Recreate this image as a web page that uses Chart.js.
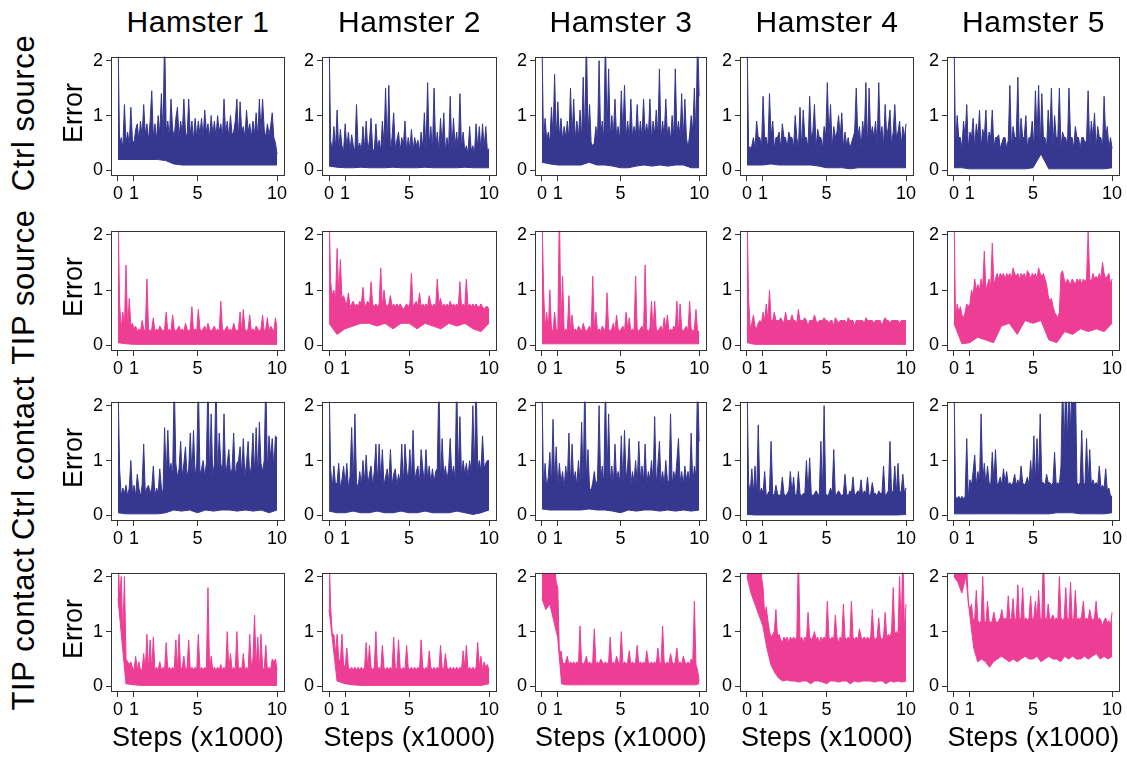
<!DOCTYPE html>
<html>
<head>
<meta charset="utf-8">
<script src="https://cdn.jsdelivr.net/npm/chart.js@4.4.1/dist/chart.umd.min.js"></script>
<style>
  body { margin: 0; background: #fff; width: 1127px; height: 757px; overflow: hidden; position: relative; font-family: "Liberation Sans", Arial, sans-serif; color: #000; }
  canvas { position: absolute; }
  .lbl { position: absolute; white-space: nowrap; line-height: 1; }
</style>
</head>
<body>
<script>
const hamsters = ["Hamster 1", "Hamster 2", "Hamster 3", "Hamster 4", "Hamster 5"]
const conditions = ["Ctrl source", "TIP source", "Ctrl contact", "TIP contact"]
const xTicks = [0, 1, 5, 10]
const yTicks = [0, 1, 2]

// error: upper edge of the noisy trace (with its spikes)
// and its lower edge, both spread evenly over steps 0..10 (x1000)
const ctrlSource1Top = [2.5, 0.45, 0.6, 0.4, 1.2, 0.5, 0.7, 0.45, 1.15, 0.55, 0.5, 0.75, 0.85, 0.55, 0.9, 0.6, 1.2, 0.65, 0.85, 0.55, 0.9, 1.45, 0.6, 0.85, 0.55, 1.0, 0.65, 1.4, 0.6, 2.5, 0.7, 0.9, 0.6, 1.3, 0.75, 0.6, 0.95, 1.15, 0.6, 0.9, 0.65, 1.3, 0.7, 0.6, 1.3, 0.65, 0.9, 0.55, 0.95, 0.6, 0.9, 0.65, 0.95, 0.6, 1.1, 0.7, 0.85, 0.6, 1.0, 0.65, 0.9, 0.6, 1.0, 0.7, 0.85, 0.6, 1.3, 0.65, 0.9, 0.6, 1.0, 0.65, 0.7, 0.9, 1.3, 0.6, 1.25, 0.7, 0.8, 0.6, 1.1, 0.7, 0.85, 0.6, 0.9, 0.65, 1.05, 0.6, 1.3, 0.7, 1.3, 0.75, 0.6, 0.85, 0.65, 0.8, 1.05, 0.6, 0.5, 0.3]
const ctrlSource1Low = [0.2, 0.2, 0.2, 0.2, 0.2, 0.2, 0.18, 0.12, 0.1, 0.1, 0.1, 0.1, 0.1, 0.1, 0.1, 0.1, 0.1, 0.1, 0.1, 0.1, 0.1]
const ctrlSource2Top = [2.5, 0.55, 0.35, 0.8, 0.4, 1.1, 0.35, 0.75, 0.45, 0.35, 0.85, 0.4, 0.7, 0.35, 0.65, 0.45, 0.35, 1.2, 0.4, 0.5, 0.35, 0.8, 0.4, 0.9, 0.35, 0.55, 0.95, 0.4, 0.35, 0.85, 0.4, 0.55, 0.35, 0.9, 0.45, 1.5, 0.4, 1.55, 0.35, 0.6, 1.05, 0.4, 0.55, 0.7, 0.35, 0.6, 0.45, 0.9, 0.35, 0.6, 0.4, 0.75, 0.35, 0.6, 0.45, 0.55, 0.35, 0.7, 0.4, 1.05, 0.35, 1.6, 0.45, 0.8, 0.35, 1.5, 0.4, 0.7, 0.35, 0.95, 0.45, 1.05, 0.35, 0.6, 0.4, 1.35, 0.35, 0.95, 0.45, 0.7, 0.35, 1.4, 0.4, 0.7, 0.35, 0.45, 0.3, 0.8, 0.35, 0.45, 0.3, 0.85, 0.4, 0.8, 0.35, 0.85, 0.4, 0.8, 0.35, 0.4]
const ctrlSource2Low = [0.08, 0.06, 0.05, 0.05, 0.06, 0.05, 0.05, 0.05, 0.06, 0.05, 0.05, 0.05, 0.06, 0.05, 0.05, 0.05, 0.05, 0.06, 0.05, 0.05, 0.05]
const ctrlSource3Top = [2.5, 0.5, 0.95, 0.55, 0.7, 0.5, 1.15, 0.6, 1.75, 0.55, 1.25, 0.6, 0.95, 0.55, 0.8, 0.6, 0.9, 0.55, 1.5, 0.6, 1.3, 0.55, 0.9, 0.6, 1.1, 0.55, 1.7, 0.6, 2.5, 0.65, 1.2, 0.5, 0.45, 0.5, 0.8, 0.55, 2.0, 0.6, 0.9, 0.55, 2.5, 0.65, 1.85, 0.6, 1.0, 0.65, 1.3, 0.6, 0.8, 0.55, 1.45, 0.65, 1.55, 0.6, 0.9, 0.55, 1.3, 0.6, 0.8, 0.65, 1.2, 0.55, 0.9, 0.6, 1.3, 0.65, 0.85, 0.6, 1.3, 0.55, 0.9, 0.65, 1.1, 0.6, 1.85, 0.55, 0.9, 0.6, 1.3, 0.65, 0.8, 0.55, 1.0, 0.6, 1.85, 0.65, 0.9, 0.6, 1.4, 0.55, 1.3, 0.6, 0.4, 0.65, 1.0, 0.7, 1.5, 0.6, 2.5, 1.35]
const ctrlSource3Low = [0.15, 0.12, 0.1, 0.1, 0.1, 0.1, 0.15, 0.1, 0.1, 0.08, 0.05, 0.05, 0.08, 0.1, 0.08, 0.1, 0.08, 0.1, 0.1, 0.05, 0.05]
const ctrlSource4Top = [2.5, 0.45, 0.4, 0.45, 0.6, 0.4, 0.9, 0.6, 0.6, 0.4, 1.35, 0.6, 0.6, 0.4, 1.4, 0.6, 0.9, 0.4, 0.6, 0.6, 0.7, 0.4, 0.85, 0.6, 0.6, 0.4, 0.7, 0.6, 0.6, 0.4, 1.0, 0.6, 0.4, 1.15, 0.4, 1.1, 0.6, 0.6, 0.4, 1.35, 0.6, 0.7, 1.2, 0.4, 0.75, 0.6, 0.6, 0.4, 0.8, 0.6, 1.6, 0.6, 1.2, 0.4, 0.8, 0.6, 0.7, 1.0, 0.6, 1.05, 0.4, 0.7, 0.45, 0.6, 0.4, 0.5, 0.6, 0.7, 1.5, 0.6, 0.8, 0.4, 0.9, 0.6, 1.6, 0.4, 1.5, 0.6, 0.8, 0.6, 0.9, 0.45, 1.6, 0.6, 0.8, 0.45, 1.2, 0.6, 0.8, 1.1, 0.45, 0.7, 1.2, 0.6, 0.7, 0.9, 0.45, 0.8, 0.6, 0.85]
const ctrlSource4Low = [0.1, 0.1, 0.1, 0.12, 0.1, 0.1, 0.1, 0.1, 0.1, 0.08, 0.05, 0.05, 0.05, 0.03, 0.05, 0.05, 0.05, 0.05, 0.05, 0.05, 0.05]
const ctrlSource5Top = [2.5, 0.4, 1.0, 0.6, 0.6, 0.4, 0.9, 0.6, 1.2, 0.4, 0.7, 0.6, 0.95, 0.4, 0.85, 0.6, 1.1, 0.4, 0.75, 0.6, 1.1, 0.4, 0.7, 0.6, 1.1, 0.4, 0.6, 0.6, 0.65, 0.4, 0.5, 0.6, 0.6, 0.4, 0.55, 1.55, 0.4, 0.8, 0.6, 0.6, 1.7, 0.4, 0.95, 0.6, 0.6, 1.0, 0.4, 0.6, 0.6, 0.9, 0.4, 1.45, 0.6, 1.55, 0.45, 1.4, 0.6, 0.6, 0.4, 1.1, 0.6, 1.5, 0.4, 1.0, 0.6, 0.6, 1.5, 0.4, 0.7, 0.6, 0.6, 0.4, 1.5, 0.6, 0.6, 0.4, 0.8, 0.6, 0.6, 0.4, 0.6, 0.6, 0.5, 0.55, 1.45, 0.4, 0.9, 0.6, 1.05, 0.4, 0.8, 0.6, 0.6, 0.4, 1.35, 0.6, 0.8, 0.4, 0.6, 0.4]
const ctrlSource5Low = [0.05, 0.05, 0.03, 0.03, 0.03, 0.03, 0.03, 0.03, 0.03, 0.03, 0.05, 0.3, 0.03, 0.03, 0.03, 0.03, 0.03, 0.03, 0.03, 0.03, 0.05]

const tipSource1Top = [2.5, 0.75, 0.3, 0.6, 0.35, 1.45, 0.3, 0.85, 0.35, 0.4, 0.3, 0.35, 0.25, 0.3, 0.25, 0.45, 0.3, 0.25, 1.2, 0.3, 0.25, 0.3, 0.5, 0.25, 0.3, 0.25, 0.35, 0.3, 0.25, 0.3, 0.6, 0.25, 0.3, 0.25, 0.55, 0.3, 0.25, 0.3, 0.35, 0.25, 0.3, 0.25, 0.4, 0.3, 0.25, 0.3, 0.7, 0.25, 0.3, 0.25, 0.65, 0.3, 0.25, 0.3, 0.35, 0.25, 0.4, 0.3, 0.25, 0.3, 0.35, 0.25, 0.3, 0.25, 0.8, 0.3, 0.25, 0.3, 0.35, 0.25, 0.3, 0.25, 0.4, 0.3, 0.25, 0.3, 0.6, 0.25, 0.65, 0.3, 0.25, 0.3, 0.55, 0.25, 0.3, 0.25, 0.35, 0.3, 0.25, 0.3, 0.55, 0.25, 0.3, 0.5, 0.25, 0.35, 0.3, 0.25, 0.5, 0.3]
const tipSource1Low = [0.05, 0.03, 0.02, 0.02, 0.02, 0.02, 0.02, 0.02, 0.02, 0.02, 0.02, 0.02, 0.02, 0.02, 0.02, 0.02, 0.02, 0.02, 0.02, 0.02, 0.02]
const tipSource2Top = [2.5, 1.15, 0.9, 1.0, 0.8, 1.75, 0.9, 1.55, 0.85, 0.9, 0.8, 0.75, 0.95, 0.7, 0.75, 0.8, 0.7, 0.75, 0.7, 0.8, 0.75, 1.05, 0.7, 0.75, 0.8, 0.7, 1.15, 0.75, 0.7, 0.75, 0.7, 0.75, 1.4, 0.7, 1.0, 0.75, 0.7, 0.75, 0.9, 0.7, 0.75, 0.7, 0.75, 0.7, 0.75, 0.7, 0.65, 0.7, 0.75, 0.7, 0.75, 1.3, 0.7, 0.75, 0.8, 0.7, 0.95, 0.7, 0.75, 0.7, 0.75, 0.7, 0.9, 0.75, 0.7, 0.75, 0.7, 1.2, 0.75, 0.85, 0.7, 0.75, 0.7, 0.75, 0.7, 0.8, 0.7, 0.75, 0.7, 0.75, 0.7, 1.15, 0.7, 0.75, 0.7, 1.2, 0.7, 0.75, 0.7, 0.75, 0.7, 0.75, 0.7, 0.7, 0.75, 0.7, 0.65, 0.7, 0.7, 0.65]
const tipSource2Low = [0.4, 0.2, 0.3, 0.35, 0.4, 0.4, 0.35, 0.4, 0.3, 0.4, 0.4, 0.3, 0.4, 0.35, 0.3, 0.4, 0.35, 0.4, 0.3, 0.25, 0.4]
const tipSource3Top = [2.5, 1.05, 0.3, 0.6, 0.25, 1.0, 0.3, 0.25, 0.6, 0.3, 0.25, 2.5, 0.3, 1.25, 0.25, 0.3, 0.25, 0.9, 0.3, 0.55, 0.25, 0.3, 0.25, 0.35, 0.3, 0.25, 0.4, 0.3, 0.25, 0.3, 0.35, 0.25, 1.25, 0.3, 0.6, 0.25, 0.3, 0.25, 0.35, 0.3, 0.25, 0.95, 0.3, 0.25, 0.3, 0.4, 0.25, 0.55, 0.3, 0.25, 0.3, 0.35, 0.25, 0.6, 0.3, 0.5, 0.25, 0.3, 0.25, 1.25, 0.3, 0.25, 0.3, 0.35, 0.25, 1.45, 0.3, 0.25, 0.3, 0.8, 0.25, 0.8, 0.3, 0.25, 0.3, 0.35, 0.25, 0.5, 0.3, 0.55, 0.25, 0.3, 0.25, 0.35, 0.3, 0.8, 0.25, 0.75, 0.3, 0.25, 0.3, 0.35, 0.25, 0.8, 0.3, 0.25, 0.3, 0.65, 0.25, 0.25]
const tipSource3Low = [0.03, 0.03, 0.03, 0.03, 0.03, 0.03, 0.03, 0.03, 0.03, 0.03, 0.03, 0.03, 0.03, 0.03, 0.03, 0.03, 0.03, 0.03, 0.03, 0.03, 0.03]
const tipSource4Top = [2.5, 0.85, 0.3, 0.4, 0.55, 0.35, 0.3, 0.4, 0.45, 0.4, 0.6, 0.45, 0.75, 0.45, 1.0, 0.45, 0.45, 0.6, 0.45, 0.45, 0.45, 0.5, 0.45, 0.4, 0.6, 0.45, 0.45, 0.45, 0.55, 0.45, 0.45, 0.4, 0.65, 0.45, 0.45, 0.45, 0.5, 0.45, 0.35, 0.45, 0.45, 0.45, 0.55, 0.45, 0.4, 0.45, 0.45, 0.45, 0.5, 0.45, 0.45, 0.4, 0.45, 0.45, 0.35, 0.5, 0.45, 0.4, 0.45, 0.45, 0.45, 0.45, 0.4, 0.5, 0.45, 0.45, 0.45, 0.35, 0.45, 0.45, 0.45, 0.45, 0.45, 0.4, 0.5, 0.45, 0.45, 0.45, 0.45, 0.4, 0.45, 0.45, 0.45, 0.45, 0.35, 0.45, 0.5, 0.45, 0.45, 0.4, 0.45, 0.45, 0.45, 0.45, 0.45, 0.4, 0.45, 0.45, 0.45, 0.45]
const tipSource4Low = [0.05, 0.02, 0.02, 0.02, 0.02, 0.02, 0.02, 0.02, 0.02, 0.02, 0.02, 0.02, 0.02, 0.02, 0.02, 0.02, 0.02, 0.02, 0.02, 0.02, 0.02]
const tipSource5Top = [2.5, 0.45, 0.75, 0.6, 0.7, 0.55, 0.5, 0.6, 0.75, 0.7, 0.75, 1.0, 0.9, 1.2, 1.0, 1.1, 1.0, 1.2, 1.05, 1.7, 1.0, 1.1, 1.2, 1.05, 1.85, 1.1, 1.2, 1.3, 1.2, 1.3, 1.25, 1.3, 1.2, 1.3, 1.25, 1.3, 1.2, 1.4, 1.3, 1.25, 1.3, 1.2, 1.3, 1.25, 1.3, 1.2, 1.35, 1.3, 1.2, 1.3, 1.25, 1.3, 1.2, 1.4, 1.3, 1.25, 1.3, 1.2, 1.1, 0.9, 0.8, 0.85, 0.7, 0.6, 0.55, 0.5, 0.6, 1.3, 1.35, 1.2, 1.1, 1.2, 1.15, 1.1, 1.2, 1.15, 1.1, 1.2, 1.15, 1.2, 1.1, 1.2, 1.15, 1.2, 2.05, 1.2, 1.15, 1.3, 1.2, 1.25, 1.2, 1.3, 1.2, 1.5, 1.3, 1.2, 1.25, 1.3, 1.1, 1.2]
const tipSource5Low = [0.4, 0.03, 0.05, 0.15, 0.1, 0.05, 0.35, 0.4, 0.2, 0.45, 0.4, 0.45, 0.1, 0.05, 0.25, 0.2, 0.3, 0.25, 0.3, 0.25, 0.4]

const ctrlContact1Top = [2.5, 0.85, 0.35, 0.5, 0.4, 0.55, 0.35, 0.5, 1.0, 0.4, 0.55, 0.35, 0.75, 0.5, 0.35, 0.55, 1.3, 0.4, 0.5, 0.55, 0.4, 0.5, 0.9, 0.35, 0.5, 0.4, 0.85, 0.5, 0.4, 1.6, 0.7, 1.55, 0.8, 0.95, 0.7, 2.5, 0.95, 0.7, 0.85, 1.35, 0.7, 0.95, 1.25, 0.7, 0.85, 1.5, 0.75, 1.55, 0.7, 0.95, 2.5, 0.75, 0.85, 1.0, 0.7, 0.95, 2.5, 0.75, 1.85, 0.7, 0.95, 2.5, 0.7, 1.5, 0.95, 0.75, 1.85, 0.7, 0.95, 1.2, 0.75, 0.85, 1.5, 0.7, 0.95, 1.0, 1.25, 0.75, 1.4, 0.7, 0.95, 1.35, 0.7, 0.9, 1.5, 0.75, 1.6, 0.7, 1.7, 0.95, 0.8, 1.0, 2.5, 0.8, 1.45, 1.05, 1.4, 0.85, 1.45, 1.4]
const ctrlContact1Low = [0.05, 0.03, 0.03, 0.03, 0.03, 0.03, 0.05, 0.1, 0.08, 0.1, 0.05, 0.1, 0.08, 0.1, 0.1, 0.08, 0.1, 0.08, 0.1, 0.05, 0.1]
const ctrlContact2Top = [2.5, 0.85, 0.5, 0.9, 0.55, 0.6, 0.95, 0.5, 0.65, 0.9, 0.55, 0.95, 0.5, 0.7, 1.6, 0.55, 1.85, 0.6, 0.5, 0.8, 0.55, 1.0, 0.6, 1.1, 0.55, 0.75, 0.9, 0.55, 0.8, 1.3, 0.6, 1.3, 0.65, 1.2, 0.55, 0.7, 0.85, 0.6, 1.2, 0.55, 0.75, 0.85, 0.55, 0.75, 0.6, 1.3, 0.55, 1.3, 0.85, 0.6, 1.2, 0.65, 1.55, 0.6, 0.8, 0.9, 0.6, 1.2, 0.85, 0.6, 1.2, 0.65, 0.9, 0.6, 0.85, 0.6, 0.8, 0.85, 2.5, 0.6, 1.4, 0.7, 0.9, 0.65, 0.85, 1.4, 0.7, 0.9, 0.65, 2.5, 0.75, 1.8, 0.7, 1.0, 0.75, 0.95, 0.7, 1.0, 0.8, 2.0, 0.8, 2.5, 0.85, 1.0, 0.8, 1.45, 0.85, 0.95, 1.0, 1.0]
const ctrlContact2Low = [0.08, 0.05, 0.05, 0.08, 0.05, 0.05, 0.08, 0.05, 0.05, 0.08, 0.05, 0.05, 0.08, 0.05, 0.05, 0.05, 0.08, 0.05, 0.02, 0.05, 0.1]
const ctrlContact3Top = [2.5, 0.45, 0.95, 0.5, 0.7, 1.15, 0.55, 1.75, 0.6, 1.25, 0.5, 0.95, 0.6, 0.8, 0.5, 0.9, 0.6, 1.5, 0.55, 1.3, 0.6, 0.8, 0.55, 1.0, 0.6, 1.7, 0.55, 2.5, 0.65, 1.2, 0.5, 0.45, 0.6, 0.8, 0.55, 0.65, 2.0, 0.6, 0.9, 0.55, 2.5, 0.65, 1.85, 0.6, 0.9, 0.55, 1.3, 0.65, 0.8, 0.6, 1.45, 0.55, 1.55, 0.65, 0.9, 1.4, 0.55, 0.8, 0.6, 1.0, 0.55, 1.35, 0.65, 0.9, 0.6, 1.3, 0.55, 0.8, 0.65, 1.0, 0.6, 1.8, 0.55, 0.9, 1.35, 0.6, 0.8, 0.55, 1.0, 0.65, 0.6, 1.85, 0.55, 0.8, 0.65, 1.0, 1.4, 0.6, 0.8, 0.55, 0.9, 0.65, 0.8, 0.6, 1.5, 0.55, 0.9, 0.7, 2.5, 1.35]
const ctrlContact3Low = [0.12, 0.1, 0.1, 0.1, 0.1, 0.1, 0.12, 0.1, 0.1, 0.08, 0.05, 0.1, 0.08, 0.1, 0.1, 0.08, 0.1, 0.08, 0.1, 0.08, 0.1]
const ctrlContact4Top = [2.5, 0.6, 0.4, 0.85, 0.4, 0.9, 0.35, 1.65, 0.4, 0.5, 0.4, 0.8, 0.35, 0.4, 0.45, 1.35, 0.4, 0.35, 0.55, 0.4, 0.35, 0.4, 0.7, 0.4, 0.35, 0.4, 0.45, 0.8, 0.4, 0.7, 0.35, 0.4, 0.8, 0.4, 0.35, 0.4, 0.4, 1.0, 0.4, 1.05, 0.4, 0.35, 0.4, 0.45, 0.4, 0.35, 1.35, 0.4, 2.0, 0.4, 0.35, 0.4, 0.5, 0.4, 1.2, 0.35, 0.4, 0.45, 0.4, 0.35, 0.4, 0.75, 0.4, 0.35, 0.45, 0.4, 0.7, 0.35, 0.4, 0.45, 0.4, 0.65, 0.35, 0.45, 0.4, 0.7, 0.35, 0.4, 0.6, 0.4, 0.4, 0.35, 0.45, 0.4, 0.4, 0.9, 0.35, 0.4, 0.45, 1.35, 0.4, 0.45, 0.9, 0.4, 0.95, 0.4, 0.45, 0.75, 0.4, 0.5]
const ctrlContact4Low = [0.02, 0.01, 0.01, 0.01, 0.01, 0.01, 0.01, 0.01, 0.01, 0.01, 0.01, 0.01, 0.01, 0.01, 0.01, 0.01, 0.01, 0.01, 0.01, 0.01, 0.02]
const ctrlContact5Top = [2.5, 0.35, 0.3, 0.35, 0.3, 0.35, 0.3, 0.35, 1.4, 0.3, 0.65, 0.55, 0.8, 1.1, 0.55, 0.8, 0.6, 1.85, 0.6, 0.95, 0.55, 0.9, 0.6, 0.55, 1.15, 0.6, 1.2, 0.55, 0.6, 0.7, 0.55, 0.85, 0.6, 0.8, 0.55, 0.6, 0.55, 0.6, 0.75, 0.55, 0.65, 0.55, 0.9, 0.6, 0.55, 0.6, 0.7, 0.55, 1.0, 0.6, 1.45, 0.6, 1.4, 0.65, 1.85, 0.6, 0.6, 0.55, 0.75, 0.6, 0.6, 0.55, 0.6, 1.15, 0.55, 0.6, 0.55, 0.9, 2.5, 1.2, 2.5, 1.3, 2.5, 1.5, 2.5, 2.5, 2.5, 0.6, 0.55, 0.6, 1.55, 0.6, 0.55, 1.4, 0.6, 1.2, 0.55, 0.65, 0.55, 0.6, 0.55, 0.9, 0.5, 0.55, 0.5, 0.85, 0.45, 0.5, 0.35, 0.35]
const ctrlContact5Low = [0.03, 0.03, 0.03, 0.03, 0.03, 0.03, 0.03, 0.03, 0.03, 0.03, 0.03, 0.03, 0.03, 0.05, 0.05, 0.05, 0.03, 0.03, 0.03, 0.03, 0.05]

const tipContact1Top = [2.5, 1.6, 2.0, 0.9, 2.0, 0.5, 0.45, 0.4, 0.45, 0.35, 0.3, 0.55, 0.3, 0.45, 0.3, 0.3, 0.6, 0.3, 0.95, 0.3, 0.85, 0.3, 0.9, 0.3, 0.35, 0.3, 0.45, 0.3, 0.35, 0.3, 0.8, 0.3, 0.35, 0.3, 0.35, 0.3, 0.85, 0.3, 0.95, 0.3, 0.35, 0.55, 0.3, 0.35, 0.85, 0.3, 0.35, 0.3, 0.35, 0.3, 0.95, 0.3, 0.35, 0.3, 0.35, 0.3, 1.8, 0.3, 0.55, 0.3, 0.35, 0.3, 0.35, 0.3, 0.4, 0.3, 0.35, 0.3, 1.0, 0.3, 0.6, 0.3, 0.35, 0.3, 1.0, 0.3, 0.35, 0.3, 0.6, 0.3, 0.35, 0.3, 0.95, 0.35, 0.5, 1.3, 0.35, 0.9, 0.3, 0.95, 0.35, 0.3, 0.75, 0.3, 0.35, 0.3, 0.5, 0.45, 0.5, 0.3]
const tipContact1Low = [1.6, 0.05, 0.03, 0.02, 0.02, 0.02, 0.02, 0.02, 0.02, 0.02, 0.02, 0.02, 0.02, 0.02, 0.02, 0.02, 0.02, 0.02, 0.02, 0.02, 0.02]
const tipContact2Top = [2.5, 1.45, 0.95, 0.95, 0.6, 0.95, 0.5, 0.45, 0.95, 0.4, 0.35, 0.7, 0.35, 0.3, 0.35, 0.3, 0.35, 0.3, 0.35, 0.3, 0.35, 0.3, 0.35, 0.8, 0.3, 0.75, 0.35, 0.3, 0.35, 1.0, 0.3, 0.35, 0.3, 0.75, 0.35, 0.3, 0.35, 0.3, 0.35, 0.3, 0.9, 0.35, 0.3, 0.85, 0.35, 0.3, 0.35, 0.3, 0.75, 0.35, 0.3, 0.35, 0.3, 0.35, 0.3, 0.35, 0.3, 0.85, 0.35, 0.3, 0.35, 0.3, 0.65, 0.35, 0.3, 0.35, 0.3, 0.35, 0.3, 0.75, 0.35, 0.3, 0.6, 0.35, 0.3, 0.35, 0.3, 0.35, 0.3, 0.35, 0.3, 0.35, 0.3, 0.65, 0.35, 0.75, 0.3, 0.35, 0.3, 0.35, 0.3, 0.35, 0.8, 0.35, 0.55, 0.3, 0.45, 0.35, 0.4, 0.3]
const tipContact2Low = [1.4, 0.1, 0.05, 0.03, 0.02, 0.02, 0.02, 0.02, 0.02, 0.02, 0.02, 0.02, 0.02, 0.02, 0.02, 0.02, 0.02, 0.02, 0.02, 0.02, 0.05]
const tipContact3Top = [2.5, 2.5, 2.5, 2.5, 2.5, 2.5, 2.5, 2.3, 2.2, 1.9, 1.8, 0.6, 0.65, 0.45, 0.4, 0.45, 0.55, 0.4, 0.45, 0.4, 0.45, 0.4, 0.45, 0.4, 1.1, 0.45, 0.4, 0.45, 0.55, 0.4, 0.45, 0.4, 0.45, 1.05, 0.4, 0.45, 0.4, 0.5, 0.45, 0.4, 0.45, 0.4, 0.45, 0.9, 0.4, 0.45, 0.4, 0.55, 0.45, 0.4, 1.0, 0.4, 0.45, 0.4, 0.45, 0.65, 0.4, 0.45, 0.4, 0.45, 0.75, 0.4, 0.45, 0.4, 0.45, 0.4, 0.65, 0.45, 0.4, 0.45, 0.4, 0.45, 0.4, 0.7, 0.45, 0.4, 1.1, 0.45, 0.4, 0.45, 0.4, 0.6, 0.45, 0.4, 0.45, 0.7, 0.4, 0.45, 0.4, 0.55, 0.45, 0.4, 0.45, 0.4, 0.5, 0.45, 1.55, 0.4, 0.3, 0.1]
const tipContact3Low = [1.6, 1.4, 1.5, 1.2, 0.9, 0.05, 0.03, 0.03, 0.03, 0.03, 0.03, 0.03, 0.03, 0.03, 0.03, 0.03, 0.03, 0.03, 0.03, 0.03, 0.03, 0.03, 0.03, 0.03, 0.03, 0.03, 0.03, 0.03, 0.03, 0.03, 0.03, 0.03, 0.03, 0.03, 0.03, 0.03, 0.03, 0.03, 0.03, 0.03, 0.05]
const tipContact4Top = [2.5, 2.5, 2.5, 2.5, 2.5, 2.5, 2.5, 2.5, 2.5, 2.0, 1.8, 1.3, 1.45, 1.2, 1.0, 0.9, 0.95, 1.0, 1.4, 0.9, 0.95, 0.85, 0.8, 0.9, 0.85, 0.9, 0.8, 0.9, 0.85, 0.9, 0.85, 0.9, 2.5, 0.85, 0.9, 0.8, 0.9, 0.85, 1.35, 0.9, 0.85, 0.9, 1.0, 0.85, 0.9, 0.8, 0.9, 0.85, 0.9, 0.85, 1.55, 0.9, 0.85, 0.9, 0.85, 1.3, 0.9, 0.8, 0.9, 0.85, 1.5, 0.9, 0.85, 0.9, 0.85, 1.55, 0.9, 0.85, 0.9, 0.85, 1.05, 0.9, 0.85, 0.9, 0.85, 0.9, 0.85, 0.9, 1.4, 0.9, 0.85, 0.9, 1.25, 0.9, 0.85, 0.9, 1.35, 0.9, 0.95, 0.9, 1.0, 1.8, 0.95, 1.0, 0.95, 2.0, 1.0, 2.5, 1.0, 1.5]
const tipContact4Low = [2.0, 1.7, 1.5, 1.3, 1.1, 0.7, 0.4, 0.25, 0.15, 0.1, 0.12, 0.1, 0.1, 0.08, 0.1, 0.1, 0.05, 0.1, 0.1, 0.08, 0.05, 0.1, 0.1, 0.08, 0.1, 0.1, 0.05, 0.1, 0.08, 0.1, 0.1, 0.1, 0.08, 0.1, 0.1, 0.05, 0.1, 0.08, 0.1, 0.08, 0.1]
const tipContact5Top = [2.5, 2.5, 2.5, 2.5, 2.5, 2.5, 2.5, 2.5, 2.2, 1.5, 1.4, 1.5, 1.2, 1.25, 1.75, 1.2, 1.15, 1.2, 2.0, 1.2, 1.15, 1.55, 1.2, 1.15, 1.2, 1.35, 1.2, 1.15, 1.2, 1.25, 1.4, 1.2, 1.25, 1.2, 1.65, 1.2, 1.25, 1.6, 1.2, 1.25, 1.85, 1.2, 1.25, 1.8, 1.2, 1.25, 1.2, 1.25, 1.65, 1.2, 1.25, 1.55, 1.2, 1.75, 1.25, 1.2, 2.5, 1.25, 1.2, 1.5, 1.2, 1.25, 1.3, 1.2, 1.25, 1.2, 2.0, 1.25, 1.2, 1.25, 1.8, 1.2, 1.25, 1.9, 1.2, 1.25, 1.75, 1.2, 1.25, 1.2, 1.3, 1.55, 1.2, 1.25, 1.2, 1.4, 1.25, 1.2, 1.25, 1.55, 1.2, 1.25, 1.2, 1.1, 1.2, 1.25, 1.15, 1.2, 1.1, 1.35]
const tipContact5Low = [2.0, 1.9, 1.7, 2.0, 1.3, 0.7, 0.45, 0.5, 0.45, 0.35, 0.45, 0.5, 0.55, 0.5, 0.45, 0.5, 0.45, 0.5, 0.55, 0.5, 0.5, 0.55, 0.45, 0.5, 0.55, 0.5, 0.5, 0.45, 0.55, 0.5, 0.55, 0.5, 0.5, 0.55, 0.5, 0.55, 0.6, 0.5, 0.55, 0.5, 0.55]

const series = [
    [[ctrlSource1Top, ctrlSource1Low], [ctrlSource2Top, ctrlSource2Low], [ctrlSource3Top, ctrlSource3Low], [ctrlSource4Top, ctrlSource4Low], [ctrlSource5Top, ctrlSource5Low]],
    [[tipSource1Top, tipSource1Low], [tipSource2Top, tipSource2Low], [tipSource3Top, tipSource3Low], [tipSource4Top, tipSource4Low], [tipSource5Top, tipSource5Low]],
    [[ctrlContact1Top, ctrlContact1Low], [ctrlContact2Top, ctrlContact2Low], [ctrlContact3Top, ctrlContact3Low], [ctrlContact4Top, ctrlContact4Low], [ctrlContact5Top, ctrlContact5Low]],
    [[tipContact1Top, tipContact1Low], [tipContact2Top, tipContact2Low], [tipContact3Top, tipContact3Low], [tipContact4Top, tipContact4Low], [tipContact5Top, tipContact5Low]]
]
const colors = ["#36378f", "#ee3d95", "#36378f", "#ee3d95"]

// plot frames in page pixels
const colLeft = [111, 322, 535, 740, 947]
const colRight = [285, 497, 707, 914, 1120]
const rowTop = [49, 223, 394, 565]
const rowBottom = [176, 351, 521, 692]
const padL = 50, padT = 6, padR = 6, padB = 30
const font = "'Liberation Sans', Arial, sans-serif"

const frame = {
    id: "frame",
    afterDraw(chart) {
        const a = chart.chartArea, c = chart.ctx
        c.save()
        c.strokeStyle = "#333"
        c.lineWidth = 1
        c.strokeRect(Math.round(a.left) + 0.5, Math.round(a.top) + 0.5, Math.round(a.right - a.left) - 1, Math.round(a.bottom - a.top) - 1)
        c.restore()
    }
}

function label(text, x, y, size, extra) {
    const d = document.createElement("div")
    d.className = "lbl"
    d.textContent = text
    d.style.left = x + "px"
    d.style.top = y + "px"
    d.style.fontSize = size + "px"
    d.style.transform = "translate(-50%, -50%)" + (extra || "")
    document.body.appendChild(d)
    return d
}

const points = values => values.map((v, i) => ({x: i * 10 / (values.length - 1), y: v}))

series.forEach((row, r) => {
    row.forEach(([top, low], c) => {
        const cv = document.createElement("canvas")
        const w = colRight[c] - colLeft[c] + padL + padR
        const h = rowBottom[r] - rowTop[r] + padT + padB
        cv.width = w
        cv.height = h
        cv.style.left = (colLeft[c] - padL) + "px"
        cv.style.top = (rowTop[r] - padT) + "px"
        document.body.appendChild(cv)

        new Chart(cv, {
            type: "line",
            data: {
                datasets: [{
                    data: points(top),
                    borderColor: colors[r],
                    backgroundColor: colors[r],
                    borderWidth: 1,
                    borderJoinStyle: "bevel",
                    fill: "+1",
                    pointRadius: 0,
                    tension: 0,
                    clip: 0
                }, {
                    data: points(low),
                    borderColor: colors[r],
                    borderWidth: 1,
                    fill: false,
                    pointRadius: 0,
                    tension: 0,
                    clip: 0
                }]
            },
            options: {
                responsive: false,
                animation: false,
                devicePixelRatio: 1,
                layout: {padding: {top: padT, right: padR, left: 0, bottom: 0}},
                plugins: {legend: {display: false}, tooltip: {enabled: false}},
                scales: {
                    x: {
                        type: "linear", min: -0.44, max: 10.5,
                        afterBuildTicks: s => { s.ticks = xTicks.map(v => ({value: v})) },
                        afterFit: s => { s.height = padB },
                        border: {display: false},
                        grid: {drawOnChartArea: false, tickLength: 5, color: "#333"},
                        ticks: {font: {family: font, size: 18}, color: "#000", padding: 2, maxRotation: 0, autoSkip: false}
                    },
                    y: {
                        min: -0.1, max: 2.07,
                        afterBuildTicks: s => { s.ticks = yTicks.map(v => ({value: v})) },
                        afterFit: s => { s.width = padL },
                        border: {display: false},
                        grid: {drawOnChartArea: false, tickLength: 5, color: "#333"},
                        ticks: {font: {family: font, size: 18}, color: "#000", padding: 3}
                    }
                }
            },
            plugins: [frame]
        })
    })
})

hamsters.forEach((t, c) => {
    const d = label(t, (colLeft[c] + colRight[c]) / 2, 22, 30)
    d.style.letterSpacing = "0.5px"
    const s = label("Steps (x1000)", (colLeft[c] + colRight[c]) / 2, 737, 27)
    s.style.letterSpacing = "0.3px"
})
conditions.forEach((t, r) => {
    const mid = (rowTop[r] + rowBottom[r]) / 2
    const d = label(t, 23, mid, 31, " rotate(-90deg)")
    d.style.letterSpacing = "0.6px"
    label("Error", 73, mid, 27, " rotate(-90deg)")
})
</script>
</body>
</html>
